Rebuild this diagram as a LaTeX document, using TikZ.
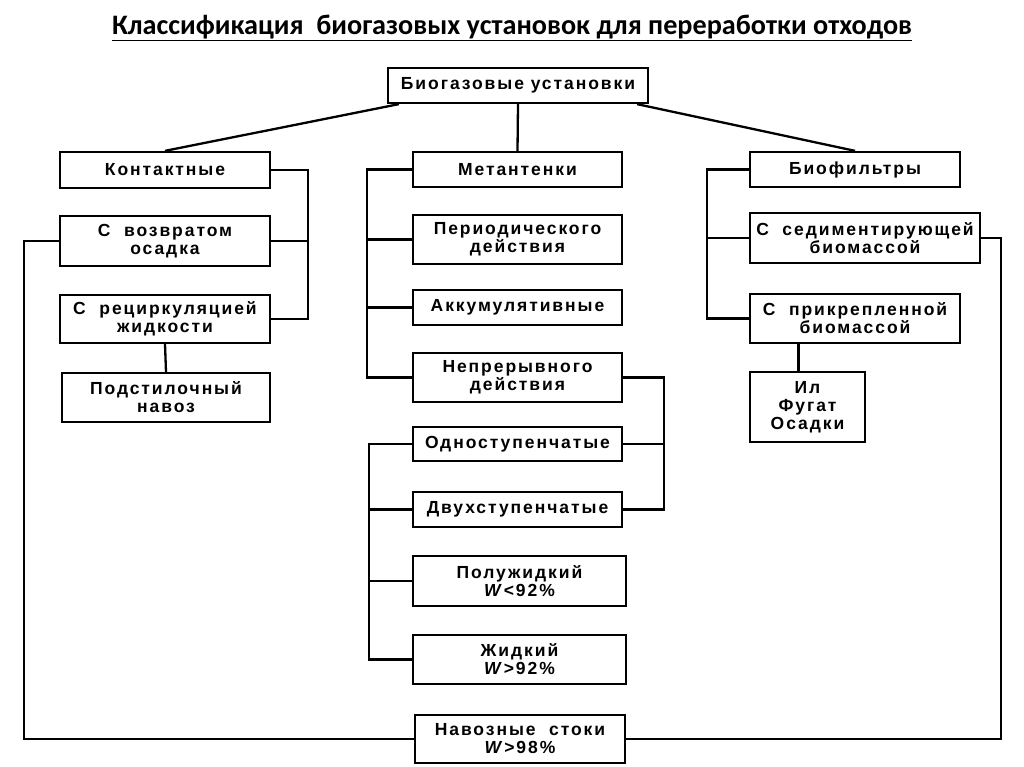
\documentclass[tikz,border=0pt]{standalone}
\usepackage{fontspec}
\setmainfont{Liberation Sans}
\newfontfamily\boxfont[LetterSpace=11,ItalicFont={Liberation Sans Bold Italic}]{Liberation Sans Bold}
\newfontfamily\titlefont{Carlito Bold}
\usepackage{tikz}

\begin{document}
\begin{tikzpicture}[x=1pt,y=-1pt]
\tikzstyle{every node}+=[inner sep=0pt]
\tikzstyle{blk}=[draw=black,line width=2.3pt,align=center,font=\boxfont\fontsize{17.5}{18}\selectfont]
\useasboundingbox (0,0) rectangle (1024,767);
\draw (512,28) node (title) {\titlefont\fontsize{28.2}{30}\selectfont\underline{Классификация\ \ биогазовых установок для переработки отходов}};
\draw (518,85.5) node [blk,minimum width=260,minimum height=35] (root) {Биогазовые установки};
\draw (165,170) node [blk,minimum width=210,minimum height=36] (kont) {Контактные};
\draw (165,241) node [blk,minimum width=210,minimum height=50] (vozv) {С\ \ возвратом\\осадка};
\draw (165,319) node [blk,minimum width=210,minimum height=48] (recirk) {С\ \ рециркуляцией\\жидкости};
\draw (166,397.5) node [blk,minimum width=208,minimum height=49] (podst) {Подстилочный\\навоз};
\draw (517.5,169.5) node [blk,minimum width=209,minimum height=35] (metan) {Метантенки};
\draw (517.5,239.5) node [blk,minimum width=209,minimum height=49] (period) {Периодического\\действия};
\draw (517.5,307.5) node [blk,minimum width=209,minimum height=35] (akkum) {Аккумулятивные};
\draw (517.5,377.5) node [blk,minimum width=209,minimum height=49] (nepr) {Непрерывного\\действия};
\draw (517.5,444) node [blk,minimum width=209,minimum height=34] (odno) {Одноступенчатые};
\draw (517.5,509.5) node [blk,minimum width=209,minimum height=35] (dvuh) {Двухступенчатые};
\draw (519.5,581) node [blk,minimum width=213,minimum height=50] (polu) {Полужидкий\\\textit{W}<92\%};
\draw (519.5,659.5) node [blk,minimum width=213,minimum height=49] (zhid) {Жидкий\\\textit{W}>92\%};
\draw (520,739) node [blk,minimum width=210,minimum height=48] (navoz) {Навозные\ \ стоки\\\textit{W}>98\%};
\draw (855,169.5) node [blk,minimum width=210,minimum height=35] (biof) {Биофильтры};
\draw (865,238) node [blk,minimum width=230,minimum height=50] (sedim) {С\ \ седиментирующей\\биомассой};
\draw (855,318.5) node [blk,minimum width=210,minimum height=49] (prikr) {С\ \ прикрепленной\\биомассой};
\draw (807.5,407) node [blk,minimum width=115,minimum height=70] (il) {Ил\\Фугат\\Осадки};
\tikzstyle{lnk}=[black,line width=2.3pt]
\draw [lnk] ([xshift=12pt]root.south west) -- (kont.north);
\draw [lnk] (root.south) -- (metan.north);
\draw [lnk] ([xshift=-12pt]root.south east) -- (biof.north);
\draw [lnk] (kont.east) -- ++(37,0) |- (recirk.east);
\draw [lnk] (vozv.east) -- ++(37,0);
\draw [lnk] (recirk.south) -- (podst.north);
\draw [lnk] (vozv.west) -- ++(-35,0) |- (navoz.west);
\draw [lnk] (navoz.east) -| ([xshift=20pt]sedim.east) -- (sedim.east);
\draw [lnk] (metan.west) -- ++(-45,0) |- (nepr.west);
\draw [lnk] (period.west) -- ++(-45,0);
\draw [lnk] (akkum.west) -- ++(-45,0);
\draw [lnk] (nepr.east) -- ++(41,0) |- (dvuh.east);
\draw [lnk] (odno.east) -- ++(41,0);
\draw [lnk] (odno.west) -- ++(-43,0) |- (zhid.west);
\draw [lnk] (dvuh.west) -- ++(-43,0);
\draw [lnk] (polu.west) -- ++(-43,0);
\draw [lnk] (biof.west) -- ++(-42,0) |- (prikr.west);
\draw [lnk] (sedim.west) -- ++(-42,0);
\draw [lnk] ([xshift=-9pt]il.north) -- ([xshift=-9pt]il.north |- prikr.south);
\end{tikzpicture}
\end{document}
